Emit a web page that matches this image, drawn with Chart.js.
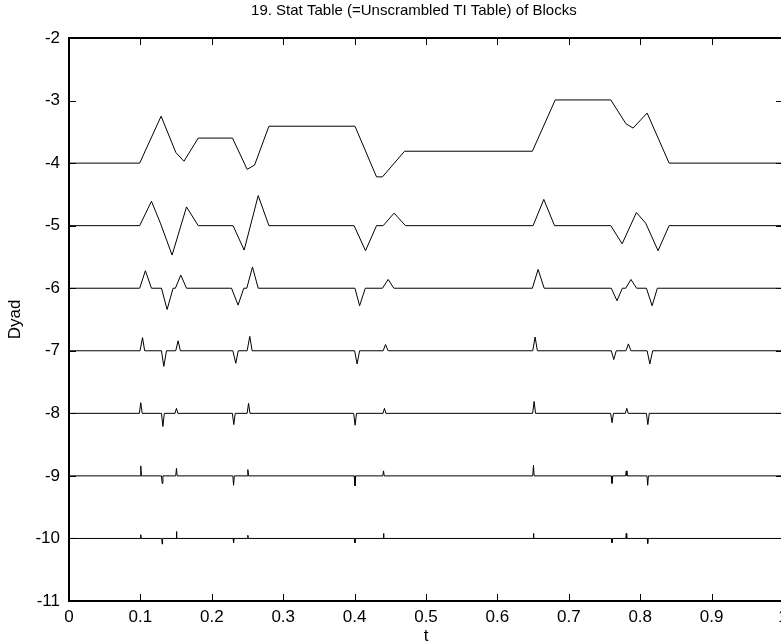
<!DOCTYPE html>
<html>
<head>
<meta charset="utf-8">
<script src="https://cdn.jsdelivr.net/npm/chart.js@4.4.1/dist/chart.umd.min.js"></script>
<style>
  html, body { margin: 0; padding: 0; background: #fff; overflow: hidden; }
  #wrap { width: 800px; height: 643px; }
</style>
</head>
<body>
<div id="wrap"><canvas id="c" width="800" height="643"></canvas></div>
<script>
// ---- Data ----
const chartTitle = '19. Stat Table (=Unscrambled TI Table) of Blocks';
const xAxisLabel = 't';
const yAxisLabel = 'Dyad';
const xTickLabels = ['0','0.1','0.2','0.3','0.4','0.5','0.6','0.7','0.8','0.9','1'];
const yTickLabels = ['-11','-10','-9','-8','-7','-6','-5','-4','-3','-2'];

// Dyad -4 row
const tDyad4 = [0, 0.099, 0.129, 0.1496, 0.161, 0.181, 0.229, 0.2495, 0.260, 0.280, 0.4005, 0.4307, 0.439, 0.470, 0.649, 0.681, 0.7588, 0.780, 0.790, 0.8097, 0.8405, 1];
const vDyad4 = [-4, -4, -3.25, -3.83, -3.97, -3.60, -3.60, -4.10, -4.03, -3.41, -3.41, -4.22, -4.22, -3.81, -3.81, -2.99, -2.99, -3.37, -3.44, -3.20, -4.0, -4.0];

// Dyad -5 row
const tDyad5 = [0, 0.099, 0.1155, 0.128, 0.1444, 0.1646, 0.181, 0.2298, 0.2453, 0.265, 0.280, 0.3993, 0.4153, 0.4307, 0.44, 0.4553, 0.4713, 0.650, 0.665, 0.680, 0.7588, 0.7747, 0.7947, 0.8077, 0.825, 0.8405, 1];
const vDyad5 = [-5, -5, -4.61, -4.96, -5.47, -4.70, -5, -5, -5.39, -4.52, -5, -5, -5.40, -5, -5, -4.80, -5, -5, -4.58, -5, -5, -5.29, -4.79, -4.96, -5.40, -5, -5];

// Dyad -6 row
const tDyad6 = [0, 0.099, 0.107, 0.1155, 0.1295, 0.1374, 0.1458, 0.149, 0.1566, 0.1646, 0.2276, 0.2368, 0.2448, 0.249, 0.257, 0.265, 0.4005, 0.407, 0.415, 0.439, 0.447, 0.455, 0.649, 0.657, 0.6655, 0.7595, 0.7675, 0.775, 0.7797, 0.787, 0.795, 0.8087, 0.8167, 0.824, 1];
const vDyad6 = [-6, -6, -5.72, -6, -6, -6.34, -6, -6, -5.79, -6, -6, -6.27, -6, -6, -5.66, -6, -6, -6.28, -6, -6, -5.86, -6, -6, -5.70, -6, -6, -6.20, -6, -6, -5.86, -6, -6, -6.28, -6, -6];

// Dyad -7 row
const tDyad7 = [0, 0.0995, 0.103, 0.106, 0.1295, 0.1328, 0.1365, 0.1495, 0.1528, 0.156, 0.2295, 0.2336, 0.237, 0.2495, 0.2532, 0.2565, 0.4, 0.4035, 0.407, 0.44, 0.4433, 0.447, 0.6495, 0.6528, 0.656, 0.7595, 0.763, 0.7665, 0.78, 0.7835, 0.787, 0.8097, 0.8135, 0.8175, 1];
const vDyad7 = [-7, -7, -6.79, -7, -7, -7.25, -7, -7, -6.84, -7, -7, -7.20, -7, -7, -6.77, -7, -7, -7.21, -7, -7, -6.90, -7, -7, -6.78, -7, -7, -7.14, -7, -7, -6.89, -7, -7, -7.21, -7, -7];

// Dyad -8 row
const tDyad8 = [0, 0.0985, 0.1005, 0.1025, 0.1295, 0.1315, 0.1335, 0.1485, 0.1505, 0.1525, 0.2288, 0.2308, 0.2328, 0.2495, 0.2515, 0.2535, 0.3987, 0.4007, 0.4027, 0.4398, 0.4418, 0.4438, 0.6494, 0.6514, 0.6534, 0.7586, 0.7606, 0.7626, 0.7792, 0.7812, 0.7832, 0.8087, 0.8107, 0.8127, 1];
const vDyad8 = [-8, -8, -7.83, -8, -8, -8.21, -8, -8, -7.92, -8, -8, -8.18, -8, -8, -7.84, -8, -8, -8.19, -8, -8, -7.92, -8, -8, -7.81, -8, -8, -8.15, -8, -8, -7.92, -8, -8, -8.18, -8, -8];

// Dyad -9 row
const tDyad9 = [0, 0.0995, 0.1005, 0.1015, 0.1295, 0.1305, 0.1315, 0.1495, 0.1505, 0.1515, 0.2295, 0.2305, 0.2315, 0.2495, 0.2505, 0.2515, 0.3995, 0.4005, 0.4015, 0.4395, 0.4405, 0.4415, 0.6495, 0.6505, 0.6515, 0.7595, 0.7605, 0.7615, 0.7795, 0.7805, 0.7815, 0.8095, 0.8105, 0.8115, 1];
const vDyad9 = [-9, -9, -8.84, -9, -9, -9.12, -9, -9, -8.88, -9, -9, -9.15, -9, -9, -8.90, -9, -9, -9.16, -9, -9, -8.92, -9, -9, -8.83, -9, -9, -9.12, -9, -9, -8.92, -9, -9, -9.15, -9, -9];

// Dyad -10 row
const tDyad10 = [0, 0.0999, 0.1005, 0.1011, 0.1299, 0.1305, 0.1311, 0.1499, 0.1505, 0.1511, 0.2299, 0.2305, 0.2311, 0.2499, 0.2505, 0.2511, 0.3999, 0.4005, 0.4011, 0.4399, 0.4405, 0.4411, 0.6499, 0.6505, 0.6511, 0.7599, 0.7605, 0.7611, 0.7799, 0.7805, 0.7811, 0.8099, 0.8105, 0.8111, 1];
const vDyad10 = [-10, -10, -9.94, -10, -10, -10.09, -10, -10, -9.89, -10, -10, -10.07, -10, -10, -9.95, -10, -10, -10.07, -10, -10, -9.92, -10, -10, -9.92, -10, -10, -10.07, -10, -10, -9.92, -10, -10, -10.08, -10, -10];

// ---- Build chart ----
const rows = [
  [tDyad4, vDyad4], [tDyad5, vDyad5], [tDyad6, vDyad6], [tDyad7, vDyad7],
  [tDyad8, vDyad8], [tDyad9, vDyad9], [tDyad10, vDyad10]
];
const FONT = 'Liberation Sans, Arial, Helvetica, sans-serif';

const datasets = rows.map(([ts, vs]) => ({
  data: ts.map((t, i) => ({ x: t, y: vs[i] })),
  showLine: true,
  borderColor: '#000',
  borderWidth: 1,
  pointRadius: 0,
  fill: false,
  tension: 0
}));

const frame = {
  id: 'frame',
  afterDatasetsDraw(chart) {
    const ctx = chart.ctx;
    const a = chart.chartArea;
    const xs = chart.scales.x, ys = chart.scales.y;
    const L = Math.round(a.left), R = Math.round(a.right);
    const T = Math.round(a.top), B = Math.round(a.bottom);
    const tl = 7;
    ctx.save();
    ctx.strokeStyle = '#000';
    ctx.lineWidth = 2;
    ctx.strokeRect(L, T, R - L, B - T);
    ctx.lineWidth = 1;
    ctx.beginPath();
    xs.ticks.forEach(tk => {
      const px = Math.round(xs.getPixelForValue(tk.value)) + 0.5;
      ctx.moveTo(px, B); ctx.lineTo(px, B - tl);
      ctx.moveTo(px, T); ctx.lineTo(px, T + tl);
    });
    ys.ticks.forEach(tk => {
      const py = Math.round(ys.getPixelForValue(tk.value)) + 0.5;
      ctx.moveTo(L, py); ctx.lineTo(L + tl, py);
      ctx.moveTo(R, py); ctx.lineTo(R - tl, py);
    });
    ctx.stroke();
    // title above the axes
    ctx.fillStyle = '#000';
    ctx.font = '15px ' + FONT;
    ctx.textAlign = 'center';
    ctx.textBaseline = 'middle';
    ctx.fillText(chartTitle, a.left + (a.right - a.left) * 0.483, 11);
    ctx.restore();
  }
};

new Chart(document.getElementById('c'), {
  type: 'scatter',
  data: { datasets },
  options: {
    responsive: false,
    animation: false,
    devicePixelRatio: 1,
    layout: { padding: { top: 38, right: 17, bottom: 0, left: 0 } },
    plugins: { legend: { display: false }, title: { display: false }, tooltip: { enabled: false } },
    scales: {
      x: {
        type: 'linear', min: 0, max: 1, position: 'bottom',
        grid: { display: false, drawTicks: false },
        border: { display: false },
        ticks: {
          stepSize: 0.1, autoSkip: false, maxRotation: 0, minRotation: 0,
          color: '#000', padding: 6, font: { family: FONT, size: 17 },
          callback: (v, i) => xTickLabels[i]
        },
        title: { display: true, text: xAxisLabel, color: '#000', font: { family: FONT, size: 17, lineHeight: 0.8 }, padding: { top: 0, bottom: 0 } },
        afterFit(s) { s.height = 42; }
      },
      y: {
        type: 'linear', min: -11, max: -2,
        grid: { display: false, drawTicks: false },
        border: { display: false },
        ticks: {
          stepSize: 1, autoSkip: false,
          color: '#000', padding: 9, font: { family: FONT, size: 17 },
          callback: (v, i) => yTickLabels[i]
        },
        title: { display: true, text: yAxisLabel, color: '#000', font: { family: FONT, size: 17 }, padding: { top: 5, bottom: 0 } },
        afterFit(s) { s.width = 69; }
      }
    }
  },
  plugins: [frame]
});
</script>
</body>
</html>
